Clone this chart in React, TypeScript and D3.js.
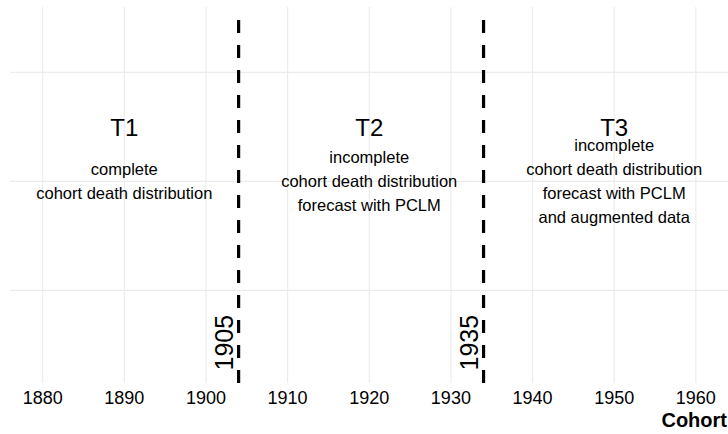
import * as d3 from "d3"

const xTicks = [1880, 1890, 1900, 1910, 1920, 1930, 1940, 1950, 1960]
const yGrid = [1, 2, 3]
const cutoffs = [1904, 1934]
const cutoffLabels = ["1905", "1935"]
const periods = ["T1", "T2", "T3"]
const periodX = [1890, 1920, 1950]
const descriptions = [
  ["complete", "cohort death distribution"],
  ["incomplete", "cohort death distribution", "forecast with PCLM"],
  [
    "incomplete",
    "cohort death distribution",
    "forecast with PCLM",
    "and augmented data",
  ],
]

const W = 728
const H = 434
const FONT = "'Liberation Sans', Arial, Helvetica, sans-serif"

export default function App() {
  const x = d3.scaleLinear().domain([1876, 1964]).range([10, 728.5])
  const y = d3.scaleLinear().domain([0.15, 3.6]).range([383, 7])
  const [top, bottom] = [y.range()[1], y.range()[0]]

  const descSize = 16.5
  const lineH = 24

  return (
    <svg
      width={W}
      height={H}
      style={{ position: "absolute", left: 0, top: 0, background: "#fff" }}
      fontFamily={FONT}
    >
      {/* grid */}
      {yGrid.map((g) => (
        <line
          key={"h" + g}
          x1={10}
          x2={W}
          y1={y(g)}
          y2={y(g)}
          stroke="#ebebeb"
          strokeWidth={1.1}
        />
      ))}
      {xTicks.map((t) => (
        <line
          key={"v" + t}
          x1={x(t)}
          x2={x(t)}
          y1={top}
          y2={bottom}
          stroke="#ebebeb"
          strokeWidth={1.1}
        />
      ))}

      {/* cutoff lines, drawn bottom-up so the dash pattern starts at the axis */}
      {cutoffs.map((c, i) => (
        <g key={"c" + c}>
          <line
            x1={x(c)}
            x2={x(c)}
            y1={bottom}
            y2={19}
            stroke="#000"
            strokeWidth={3.2}
            strokeDasharray="13,12"
          />
          <text
            transform={`translate(${x(c) - 6},${y(0.52)}) rotate(-90)`}
            textAnchor="middle"
            fontSize={25}
            fill="#000"
          >
            {cutoffLabels[i]}
          </text>
        </g>
      ))}

      {/* period labels */}
      {periods.map((p, i) => (
        <text
          key={p}
          x={x(periodX[i])}
          y={y(2.5) + 24 * 0.36}
          textAnchor="middle"
          fontSize={24}
          fill="#000"
        >
          {p}
        </text>
      ))}
      {descriptions.map((lines, i) => (
        <text
          key={"d" + i}
          textAnchor="middle"
          fontSize={descSize}
          fill="#000"
        >
          {lines.map((l, j) => (
            <tspan
              key={j}
              x={x(periodX[i])}
              y={y(2) + (j - (lines.length - 1) / 2) * lineH + descSize * 0.35}
            >
              {l}
            </tspan>
          ))}
        </text>
      ))}

      {/* x axis labels */}
      {xTicks.map((t) => (
        <text
          key={"t" + t}
          x={x(t)}
          y={bottom + 21}
          textAnchor="middle"
          fontSize={18}
          fill="#000"
        >
          {t}
        </text>
      ))}
      <text
        x={727}
        y={427}
        textAnchor="end"
        fontSize={20}
        fontWeight="bold"
        fill="#000"
      >
        Cohort
      </text>
    </svg>
  )
}
